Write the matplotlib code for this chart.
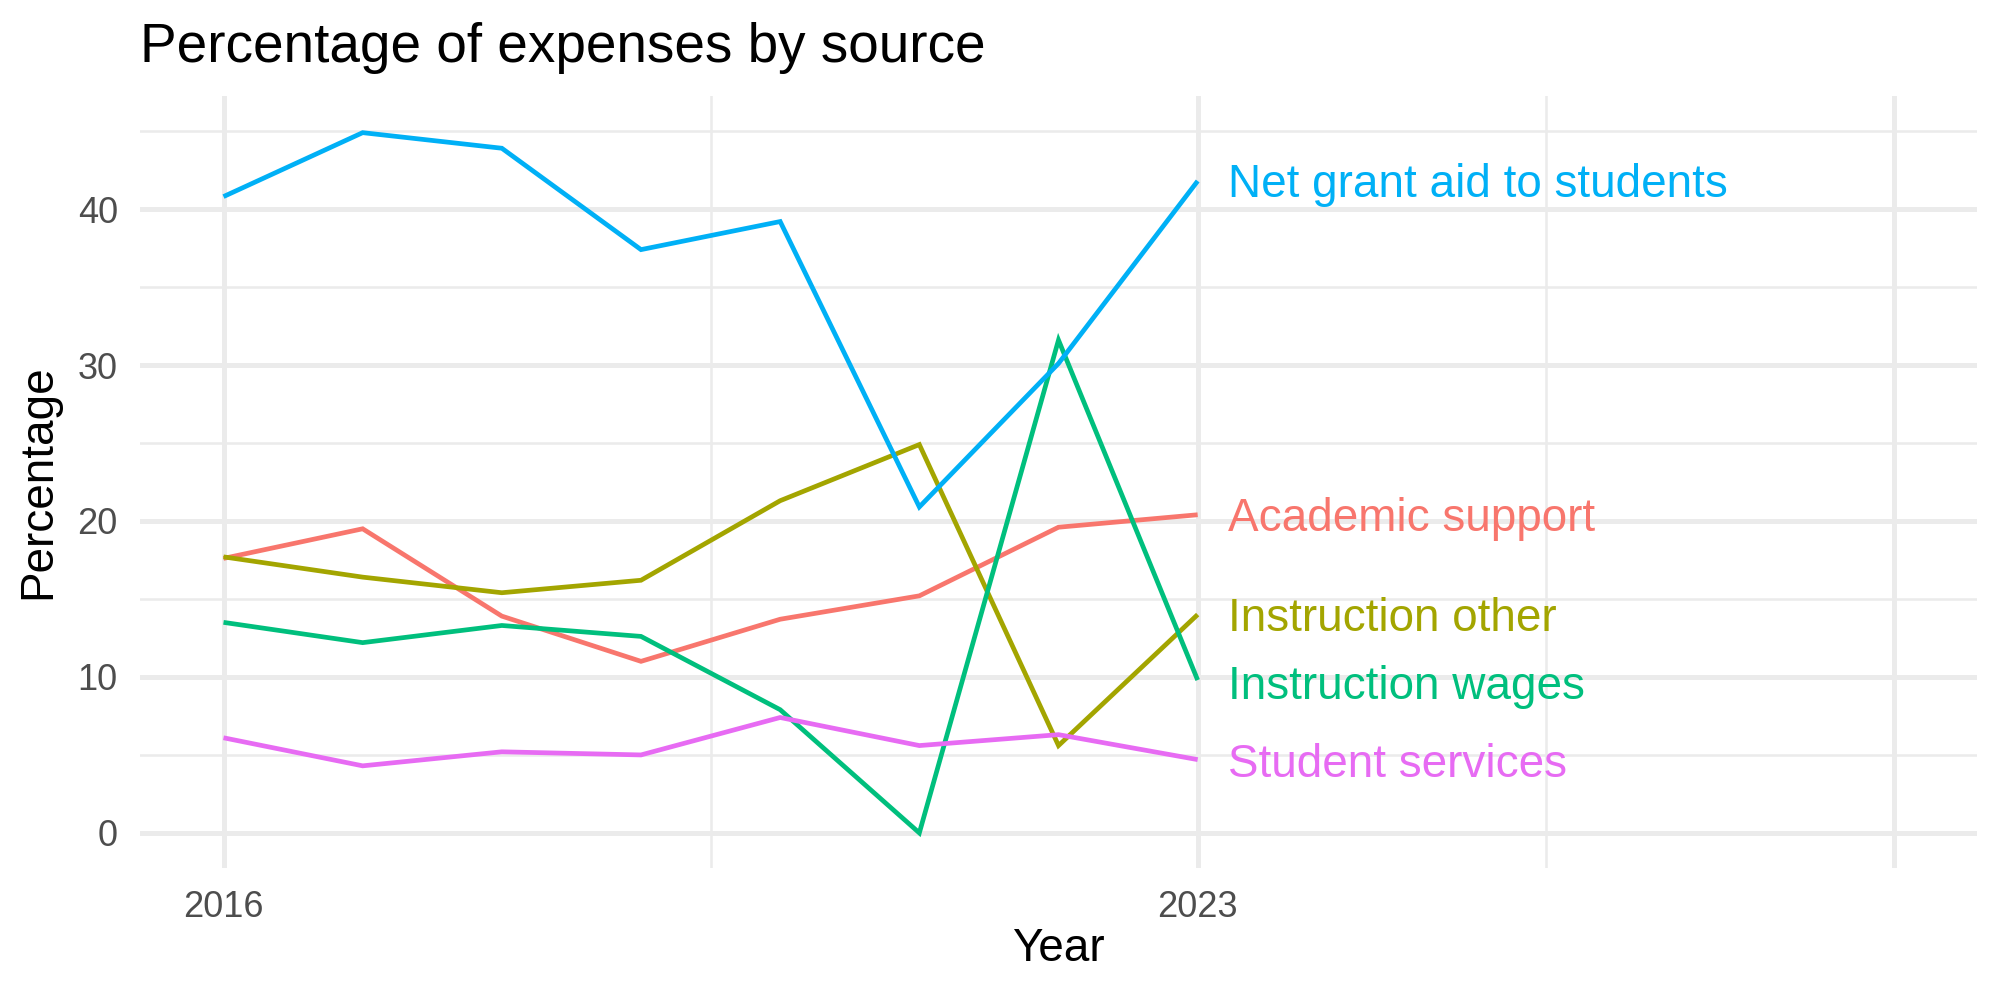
import matplotlib
matplotlib.use("Agg")
import matplotlib.pyplot as plt

years = [2016, 2017, 2018, 2019, 2020, 2021, 2022, 2023]
series_names = ["Academic support", "Instruction other", "Instruction wages",
                "Net grant aid to students", "Student services"]
academic_support = [17.6, 19.5, 13.9, 11.0, 13.7, 15.2, 19.6, 20.4]
instruction_other = [17.7, 16.4, 15.4, 16.2, 21.3, 24.9, 5.6, 14.0]
instruction_wages = [13.5, 12.2, 13.3, 12.6, 7.9, 0.0, 31.6, 9.8]
net_grant_aid = [40.8, 44.9, 43.9, 37.4, 39.2, 20.9, 30.1, 41.8]
student_services = [6.1, 4.3, 5.2, 5.0, 7.4, 5.6, 6.3, 4.7]
colors = ["#F8766D", "#A3A500", "#00BF7D", "#00B0F6", "#E76BF3"]
label_y = [20.4, 14.0, 9.65, 41.8, 4.6]

x_major = [2016, 2023, 2028]
x_minor = [2019.5, 2025.5]
x_tick_labels = ["2016", "2023", ""]
y_major = [0, 10, 20, 30, 40]
y_minor = [5, 15, 25, 35, 45]

plt.rcParams['font.family'] = ['Liberation Sans', 'DejaVu Sans']

fig = plt.figure(figsize=(20, 10), dpi=100)
ax = fig.add_axes([0.07, 0.132, 0.9185, 0.772])

all_series = [academic_support, instruction_other, instruction_wages,
              net_grant_aid, student_services]

for v in x_major:
    ax.axvline(v, color="#EBEBEB", lw=3.6, zorder=0)
for v in x_minor:
    ax.axvline(v, color="#EBEBEB", lw=1.8, zorder=0)
for v in y_major:
    ax.axhline(v, color="#EBEBEB", lw=3.6, zorder=0)
for v in y_minor:
    ax.axhline(v, color="#EBEBEB", lw=1.8, zorder=0)

for name, vals, c, ly in zip(series_names, all_series, colors, label_y):
    ax.plot(years, vals, color=c, lw=3.4, solid_joinstyle="miter",
            solid_capstyle="butt", zorder=2)
    ax.annotate(name, xy=(years[-1] + 0.22, ly), xytext=(0, -3),
                textcoords="offset points", color=c, fontsize=33,
                va="center", ha="left")

ax.set_xlim(2015.4, 2028.6)
ax.set_ylim(-2.25, 47.25)
ax.set_xticks(x_major)
ax.set_xticklabels(x_tick_labels)
ax.set_yticks(y_major)
ax.tick_params(length=0, labelsize=26, labelcolor="#4D4D4D")
ax.tick_params(axis="x", pad=16)
ax.tick_params(axis="y", pad=16)
for s in ax.spines.values():
    s.set_visible(False)

ax.set_xlabel("Year", fontsize=33)
ax.set_ylabel("Percentage", fontsize=33)
ax.xaxis.set_label_coords(0.5, -0.0764)
ax.yaxis.set_label_coords(-0.0435, 0.5)
fig.text(0.07, 0.938, "Percentage of expenses by source", fontsize=39.5,
         ha="left", va="baseline")

fig.savefig("out.png", dpi=100)
